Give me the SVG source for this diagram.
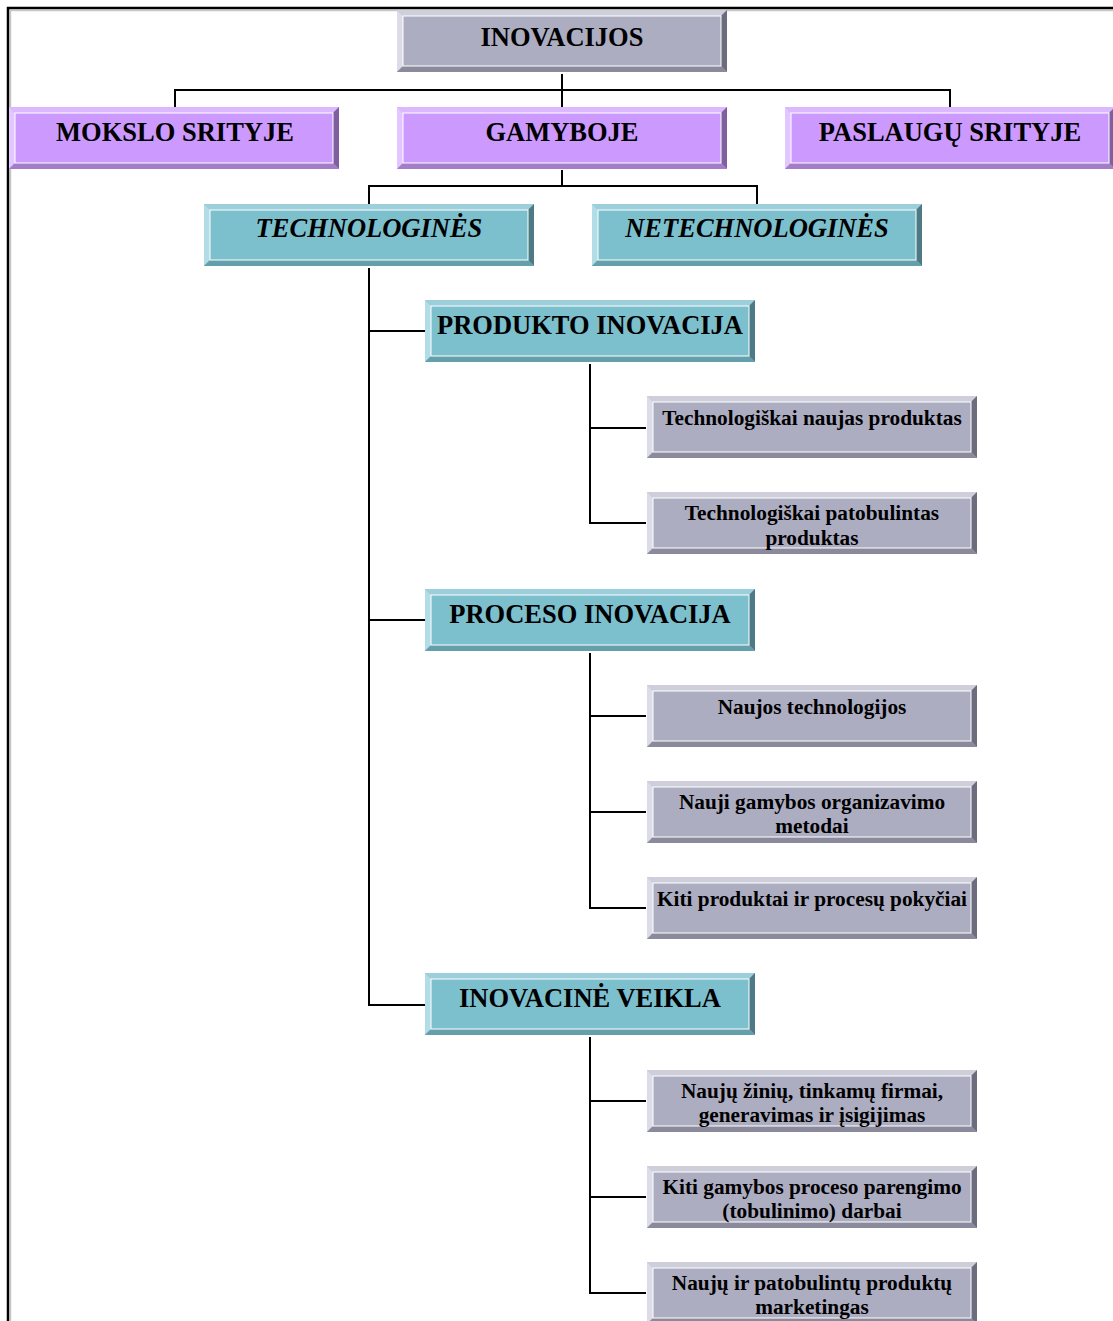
<svg xmlns="http://www.w3.org/2000/svg" xmlns:xlink="http://www.w3.org/1999/xlink" width="1113" height="1321" viewBox="0 0 1113 1321">
  <style>
    .t { font-family: "Liberation Serif", "Times New Roman", serif; font-weight: bold; fill: #000; text-anchor: middle; }
    .big { font-size: 26.5px; }
    .ital { font-style: italic; }
    .small { font-size: 21.3px; }
    .link { fill: none; stroke: #000; stroke-width: 2; }
    .frame { fill: none; stroke: #000; stroke-width: 2.5; }
    .shade { fill: none; stroke: #c8c8c8; stroke-width: 1.5; }
    .edge { fill: none; stroke: #fff; stroke-width: 1; }
  </style>
  <defs>
    <!-- beveled button shapes, 330 x 62 at the origin -->
    <g id="boxGray">
      <rect x="0" y="0" width="330" height="62" fill="#adadc2"/>
      <polygon points="0,0 330,0 324,6 6,6" fill="#cfcfdc"/>
      <polygon points="0,0 6,6 6,56 0,62" fill="#dcdce8"/>
      <polygon points="330,0 324,6 324,56 330,62" fill="#6c6c7e"/>
      <polygon points="0,62 330,62 324,56 6,56" fill="#8a8a9c"/>
      <rect class="edge" x="6" y="6" width="318" height="50"/>
    </g>
    <g id="boxPurple">
      <rect x="0" y="0" width="330" height="62" fill="#cc99ff"/>
      <polygon points="0,0 330,0 324,6 6,6" fill="#dcb8ff"/>
      <polygon points="0,0 6,6 6,56 0,62" fill="#e2c6ff"/>
      <polygon points="330,0 324,6 324,56 330,62" fill="#7f5f9f"/>
      <polygon points="0,62 330,62 324,56 6,56" fill="#a37dc8"/>
      <rect class="edge" x="6" y="6" width="318" height="50"/>
    </g>
    <g id="boxTeal">
      <rect x="0" y="0" width="330" height="62" fill="#7cbfcd"/>
      <polygon points="0,0 330,0 324,6 6,6" fill="#9ccfdb"/>
      <polygon points="0,0 6,6 6,56 0,62" fill="#b2dce6"/>
      <polygon points="330,0 324,6 324,56 330,62" fill="#4d7a84"/>
      <polygon points="0,62 330,62 324,56 6,56" fill="#64a0ac"/>
      <rect class="edge" x="6" y="6" width="318" height="50"/>
    </g>
  </defs>

  <rect x="0" y="0" width="1113" height="1321" fill="#fff"/>

  <!-- page frame -->
  <g id="frame">
    <polyline class="shade" points="1113,10.5 10.5,10.5 10.5,1321"/>
    <polyline class="frame" points="1113,8 8,8 8,1321"/>
  </g>

  <!-- connectors -->
  <g id="connectors">
    <line class="link" x1="562" y1="74" x2="562" y2="107"/>
    <polyline class="link" points="175,107 175,90 950,90 950,107"/>
    <polyline class="link" points="562,170 562,186"/>
    <polyline class="link" points="369,204 369,186 757,186 757,204"/>
    <polyline class="link" points="369,268 369,1005 425,1005"/>
    <line class="link" x1="369" y1="331" x2="425" y2="331"/>
    <line class="link" x1="369" y1="620" x2="425" y2="620"/>
    <polyline class="link" points="590,364 590,523 646,523"/>
    <line class="link" x1="590" y1="428" x2="646" y2="428"/>
    <polyline class="link" points="590,653 590,908 646,908"/>
    <line class="link" x1="590" y1="716" x2="646" y2="716"/>
    <line class="link" x1="590" y1="812" x2="646" y2="812"/>
    <polyline class="link" points="590,1037 590,1293 646,1293"/>
    <line class="link" x1="590" y1="1101" x2="646" y2="1101"/>
    <line class="link" x1="590" y1="1197" x2="646" y2="1197"/>
  </g>

  <g id="inovacijos">
    <use xlink:href="#boxGray" href="#boxGray" x="397" y="10"/>
    <text class="t big" x="562" y="46">INOVACIJOS</text>
  </g>
  <g id="mokslo">
    <use xlink:href="#boxPurple" href="#boxPurple" x="9" y="107"/>
    <text class="t big" x="175" y="141">MOKSLO SRITYJE</text>
  </g>
  <g id="gamyboje">
    <use xlink:href="#boxPurple" href="#boxPurple" x="397" y="107"/>
    <text class="t big" x="562" y="141">GAMYBOJE</text>
  </g>
  <g id="paslaugu">
    <use xlink:href="#boxPurple" href="#boxPurple" x="785" y="107"/>
    <text class="t big" x="950" y="141">PASLAUGŲ SRITYJE</text>
  </g>
  <g id="technologines">
    <use xlink:href="#boxTeal" href="#boxTeal" x="204" y="204"/>
    <text class="t big ital" x="369" y="237">TECHNOLOGINĖS</text>
  </g>
  <g id="netechnologines">
    <use xlink:href="#boxTeal" href="#boxTeal" x="592" y="204"/>
    <text class="t big ital" x="757" y="237">NETECHNOLOGINĖS</text>
  </g>

  <g id="produkto">
    <use xlink:href="#boxTeal" href="#boxTeal" x="425" y="300"/>
    <text class="t big" x="590" y="334">PRODUKTO INOVACIJA</text>
  </g>
  <g id="naujas-produktas">
    <use xlink:href="#boxGray" href="#boxGray" x="647" y="396"/>
    <text class="t small" x="812" y="425">Technologiškai naujas produktas</text>
  </g>
  <g id="patobulintas-produktas">
    <use xlink:href="#boxGray" href="#boxGray" x="647" y="492"/>
    <text class="t small" x="812" y="520">Technologiškai patobulintas</text>
    <text class="t small" x="812" y="545">produktas</text>
  </g>

  <g id="proceso">
    <use xlink:href="#boxTeal" href="#boxTeal" x="425" y="589"/>
    <text class="t big" x="590" y="623">PROCESO INOVACIJA</text>
  </g>
  <g id="naujos-technologijos">
    <use xlink:href="#boxGray" href="#boxGray" x="647" y="685"/>
    <text class="t small" x="812" y="714">Naujos technologijos</text>
  </g>
  <g id="organizavimo-metodai">
    <use xlink:href="#boxGray" href="#boxGray" x="647" y="781"/>
    <text class="t small" x="812" y="809">Nauji gamybos organizavimo</text>
    <text class="t small" x="812" y="833">metodai</text>
  </g>
  <g id="kiti-produktai">
    <use xlink:href="#boxGray" href="#boxGray" x="647" y="877"/>
    <text class="t small" x="812" y="906">Kiti produktai ir procesų pokyčiai</text>
  </g>

  <g id="inovacine-veikla">
    <use xlink:href="#boxTeal" href="#boxTeal" x="425" y="973"/>
    <text class="t big" x="590" y="1007">INOVACINĖ VEIKLA</text>
  </g>
  <g id="nauju-ziniu">
    <use xlink:href="#boxGray" href="#boxGray" x="647" y="1070"/>
    <text class="t small" x="812" y="1098">Naujų žinių, tinkamų firmai,</text>
    <text class="t small" x="812" y="1122">generavimas ir įsigijimas</text>
  </g>
  <g id="parengimo-darbai">
    <use xlink:href="#boxGray" href="#boxGray" x="647" y="1166"/>
    <text class="t small" x="812" y="1194">Kiti gamybos proceso parengimo</text>
    <text class="t small" x="812" y="1218">(tobulinimo) darbai</text>
  </g>
  <g id="marketingas">
    <use xlink:href="#boxGray" href="#boxGray" x="647" y="1262"/>
    <text class="t small" x="812" y="1290">Naujų ir patobulintų produktų</text>
    <text class="t small" x="812" y="1314">marketingas</text>
  </g>
</svg>
